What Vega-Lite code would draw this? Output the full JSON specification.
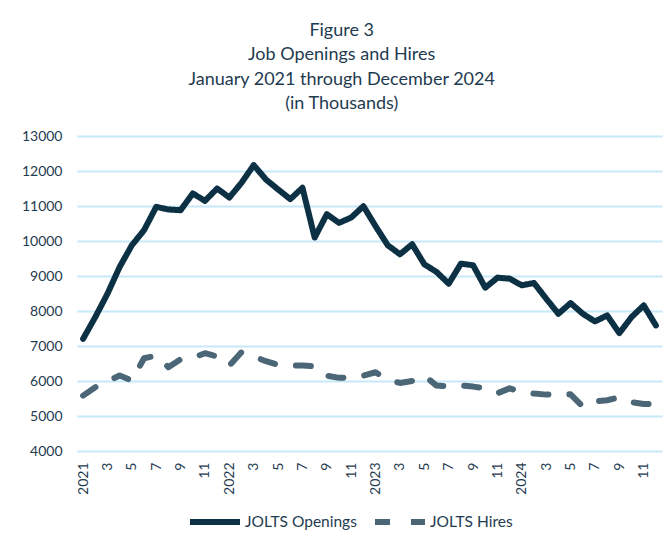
{
  "$schema": "https://vega.github.io/schema/vega-lite/v6.json",
  "autosize": "none",
  "width": 585,
  "height": 315,
  "padding": {"left": 77, "top": 136, "right": 6, "bottom": 93},
  "background": "white",
  "title": {
    "text": ["Figure 3", "Job Openings and Hires", "January 2021 through December 2024", "(in Thousands)"],
    "font": "Lato",
    "fontSize": 18,
    "fontWeight": "normal",
    "color": "#1f3b50",
    "lineHeight": 24.5,
    "anchor": "middle",
    "frame": "bounds",
    "offset": 16
  },
  "data": {
    "values": [
      {"month": "2021-01", "JOLTS Openings": 7205, "JOLTS Hires": 5582},
      {"month": "2021-02", "JOLTS Openings": 7826, "JOLTS Hires": 5821},
      {"month": "2021-03", "JOLTS Openings": 8494, "JOLTS Hires": 5990},
      {"month": "2021-04", "JOLTS Openings": 9258, "JOLTS Hires": 6155},
      {"month": "2021-05", "JOLTS Openings": 9878, "JOLTS Hires": 6012},
      {"month": "2021-06", "JOLTS Openings": 10308, "JOLTS Hires": 6650},
      {"month": "2021-07", "JOLTS Openings": 10976, "JOLTS Hires": 6728},
      {"month": "2021-08", "JOLTS Openings": 10900, "JOLTS Hires": 6394},
      {"month": "2021-09", "JOLTS Openings": 10880, "JOLTS Hires": 6620},
      {"month": "2021-10", "JOLTS Openings": 11358, "JOLTS Hires": 6661},
      {"month": "2021-11", "JOLTS Openings": 11148, "JOLTS Hires": 6795},
      {"month": "2021-12", "JOLTS Openings": 11500, "JOLTS Hires": 6700},
      {"month": "2022-01", "JOLTS Openings": 11243, "JOLTS Hires": 6442},
      {"month": "2022-02", "JOLTS Openings": 11663, "JOLTS Hires": 6823},
      {"month": "2022-03", "JOLTS Openings": 12169, "JOLTS Hires": 6700},
      {"month": "2022-04", "JOLTS Openings": 11759, "JOLTS Hires": 6566},
      {"month": "2022-05", "JOLTS Openings": 11473, "JOLTS Hires": 6461},
      {"month": "2022-06", "JOLTS Openings": 11196, "JOLTS Hires": 6450},
      {"month": "2022-07", "JOLTS Openings": 11520, "JOLTS Hires": 6442},
      {"month": "2022-08", "JOLTS Openings": 10098, "JOLTS Hires": 6423},
      {"month": "2022-09", "JOLTS Openings": 10766, "JOLTS Hires": 6150},
      {"month": "2022-10", "JOLTS Openings": 10518, "JOLTS Hires": 6090},
      {"month": "2022-11", "JOLTS Openings": 10671, "JOLTS Hires": 6107},
      {"month": "2022-12", "JOLTS Openings": 10995, "JOLTS Hires": 6155},
      {"month": "2023-01", "JOLTS Openings": 10422, "JOLTS Hires": 6250},
      {"month": "2023-02", "JOLTS Openings": 9878, "JOLTS Hires": 6031},
      {"month": "2023-03", "JOLTS Openings": 9620, "JOLTS Hires": 5945},
      {"month": "2023-04", "JOLTS Openings": 9907, "JOLTS Hires": 6000},
      {"month": "2023-05", "JOLTS Openings": 9334, "JOLTS Hires": 6155},
      {"month": "2023-06", "JOLTS Openings": 9115, "JOLTS Hires": 5869},
      {"month": "2023-07", "JOLTS Openings": 8780, "JOLTS Hires": 5850},
      {"month": "2023-08", "JOLTS Openings": 9353, "JOLTS Hires": 5869},
      {"month": "2023-09", "JOLTS Openings": 9306, "JOLTS Hires": 5840},
      {"month": "2023-10", "JOLTS Openings": 8666, "JOLTS Hires": 5792},
      {"month": "2023-11", "JOLTS Openings": 8952, "JOLTS Hires": 5650},
      {"month": "2023-12", "JOLTS Openings": 8924, "JOLTS Hires": 5792},
      {"month": "2024-01", "JOLTS Openings": 8733, "JOLTS Hires": 5678},
      {"month": "2024-02", "JOLTS Openings": 8800, "JOLTS Hires": 5640},
      {"month": "2024-03", "JOLTS Openings": 8351, "JOLTS Hires": 5611},
      {"month": "2024-04", "JOLTS Openings": 7921, "JOLTS Hires": 5611},
      {"month": "2024-05", "JOLTS Openings": 8227, "JOLTS Hires": 5620},
      {"month": "2024-06", "JOLTS Openings": 7921, "JOLTS Hires": 5267},
      {"month": "2024-07", "JOLTS Openings": 7702, "JOLTS Hires": 5420},
      {"month": "2024-08", "JOLTS Openings": 7874, "JOLTS Hires": 5450},
      {"month": "2024-09", "JOLTS Openings": 7368, "JOLTS Hires": 5535},
      {"month": "2024-10", "JOLTS Openings": 7826, "JOLTS Hires": 5392},
      {"month": "2024-11", "JOLTS Openings": 8160, "JOLTS Hires": 5344},
      {"month": "2024-12", "JOLTS Openings": 7587, "JOLTS Hires": 5340}
    ]
  },
  "transform": [
    {"fold": ["JOLTS Openings", "JOLTS Hires"], "as": ["series", "value"]}
  ],
  "mark": {"type": "line", "strokeWidth": 6, "strokeCap": "round", "strokeJoin": "round"},
  "encoding": {
    "x": {
      "field": "month",
      "type": "ordinal",
      "scale": {"type": "point", "padding": 0.5},
      "axis": {
        "title": null,
        "values": ["2021-01","2021-03","2021-05","2021-07","2021-09","2021-11","2022-01","2022-03","2022-05","2022-07","2022-09","2022-11","2023-01","2023-03","2023-05","2023-07","2023-09","2023-11","2024-01","2024-03","2024-05","2024-07","2024-09","2024-11"],
        "labelExpr": "substring(datum.value, 5, 7) == '01' ? substring(datum.value, 0, 4) : '' + toNumber(substring(datum.value, 5, 7))",
        "labelAngle": 270,
        "labelFont": "Lato",
        "labelFontSize": 14,
        "labelColor": "#1f3b50",
        "labelPadding": 11,
        "ticks": false,
        "domain": false,
        "grid": false
      }
    },
    "y": {
      "field": "value",
      "type": "quantitative",
      "scale": {"domain": [4000, 13000], "nice": false, "zero": false},
      "axis": {
        "title": null,
        "values": [4000, 5000, 6000, 7000, 8000, 9000, 10000, 11000, 12000, 13000],
        "format": "d",
        "labelFont": "Lato",
        "labelFontSize": 14,
        "labelColor": "#1f3b50",
        "labelPadding": 15,
        "ticks": false,
        "domain": false,
        "grid": true,
        "gridColor": "#c6e8f8",
        "gridWidth": 2
      }
    },
    "color": {
      "field": "series",
      "type": "nominal",
      "sort": ["JOLTS Openings", "JOLTS Hires"],
      "scale": {"domain": ["JOLTS Openings", "JOLTS Hires"], "range": ["#0d3144", "#4b6676"]},
      "legend": {
        "title": null,
        "orient": "none",
        "legendX": 110,
        "legendY": 358,
        "direction": "horizontal",
        "symbolType": "stroke",
        "symbolSize": 2500,
        "symbolStrokeWidth": 6,
        "labelFont": "Lato",
        "labelFontSize": 15.5,
        "labelColor": "#1f3b50",
        "labelOffset": 2,
        "columnPadding": 6
      }
    },
    "strokeDash": {
      "field": "series",
      "type": "nominal",
      "sort": ["JOLTS Openings", "JOLTS Hires"],
      "scale": {"domain": ["JOLTS Openings", "JOLTS Hires"], "range": [[1, 0], [15, 21]]},
      "legend": null
    }
  },
  "config": {
    "view": {"stroke": null}
  }
}
